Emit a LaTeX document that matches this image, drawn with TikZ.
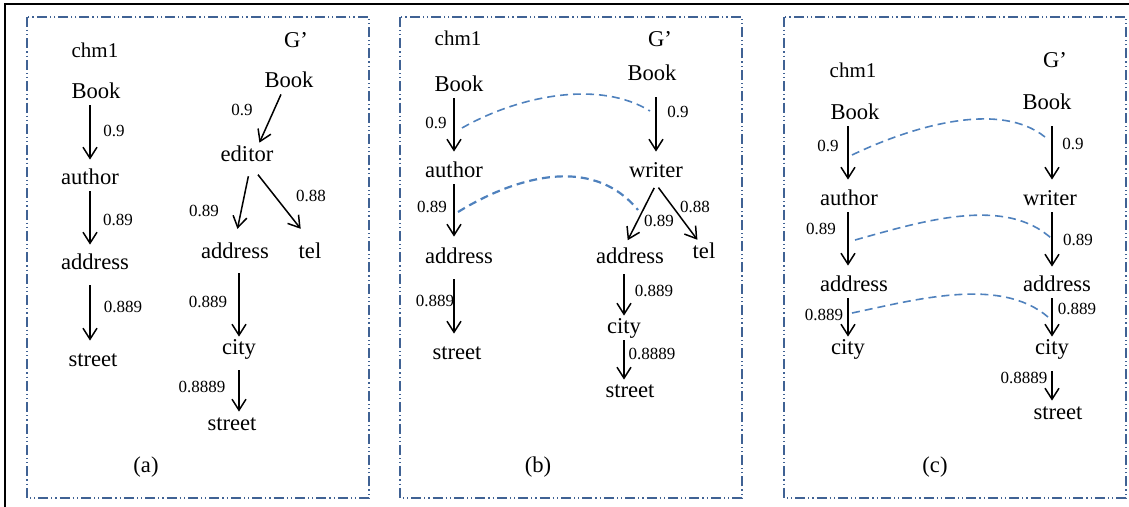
\documentclass[tikz,border=0pt]{standalone}
\usepackage{fontspec}
\setmainfont{Liberation Serif}
\usetikzlibrary{arrows.meta}
\definecolor{frameblue}{RGB}{64,98,148}
\definecolor{linkblue}{RGB}{79,129,189}

\tikzset{
  word/.style={font=\fontsize{11.3}{13}\selectfont, inner sep=1pt, text height=8pt, text depth=2pt},
  hdr/.style={font=\fontsize{10.5}{12}\selectfont, inner sep=1pt},
  wt/.style={font=\fontsize{8.5}{10}\selectfont, inner sep=0.5pt},
  arr/.style={-{Straight Barb[length=5.5pt,width=7pt]}, line width=0.75pt},
  match/.style={linkblue, dash pattern=on 4pt off 2.5pt, line width=0.8pt},
  panel/.style={frameblue, line width=0.8pt, dash pattern=on 5pt off 1.5pt on 0.6pt off 1.5pt on 0.6pt off 1.5pt}
}

\begin{document}
\begin{tikzpicture}[x=0.5pt, y=-0.5pt]
\useasboundingbox (0,0) rectangle (1129,507);

% outer frame and panels
\draw[line width=1pt] (5,507) -- (5,4) -- (1129,4);
\draw[panel] (27,17) rectangle (369,498);
\draw[panel] (400,17) rectangle (742,498);
\draw[panel] (784,17) rectangle (1126,498);

% ---------- (a) ----------
\node[hdr] (chmA) at (95,50) {chm1};
\node[word] (bookA) at (96,93) {Book};
\node[word] (authA) at (90,179) {author};
\node[word] (addrA) at (95,264) {address};
\node[word] (strA) at (93,361) {street};

\draw[arr, shorten >=3.5pt] (bookA.south -| authA) -- (authA);
\draw[arr, shorten >=3.5pt] (authA) -- (authA |- addrA.north);
\draw[arr, shorten <=4.5pt, shorten >=4pt] (addrA.south -| authA) -- (authA |- strA.north);

\node[wt] (wA1) at (114,131) {0.9};
\node[wt] (wA2) at (118,220) {0.89};
\node[wt] (wA3) at (123,307) {0.889};

\node[word] (gA) at (296,42) {G’};
\node[word] (bookB) at (289,82) {Book};
\node[word] (editB) at (247,156) {editor};
\node[word] (addrB) at (235,253) {address};
\node[word] (telB) at (310,253) {tel};
\node[word] (cityB) at (239,349) {city};
\node[word] (strB) at (232,424) {street};

\draw[arr, shorten >=0.5pt] ([xshift=-4pt]bookB.south) -- ([xshift=6pt]editB.north);
\draw[arr, shorten <=4pt, shorten >=6pt] ([xshift=1.5pt]editB.south) -- (addrB.north);
\draw[arr, shorten <=4pt, shorten >=7.5pt] ([xshift=3pt]editB.south) -- (telB.north);
\draw[arr, shorten <=4pt] (addrB.south -| cityB) -- (cityB);
\draw[arr, shorten <=4.5pt] (cityB) -- (cityB |- strB.north);

\node[wt] (wB1) at (242,110) {0.9};
\node[wt] (wB2) at (204,211) {0.89};
\node[wt] (wB3) at (311,196) {0.88};
\node[wt] (wB4) at (208,302) {0.889};
\node[wt] (wB5) at (202,387) {0.8889};

\node[word] (capA) at (146,467) {(a)};

% ---------- (b) ----------
\node[hdr] (chmC) at (458,38) {chm1};
\node[word] (bookC) at (459,86) {Book};
\node[word] (authC) at (454,172) {author};
\node[word] (addrC) at (459,258) {address};
\node[word] (strC) at (457,354) {street};

\draw[arr, shorten >=4pt] (bookC.south -| authC) -- (authC);
\draw[arr, shorten >=4.5pt] (authC) -- (authC |- addrC.north);
\draw[arr, shorten <=4.5pt, shorten >=4pt] (addrC.south -| authC) -- (authC |- strC.north);

\node[wt] (wC1) at (436,123) {0.9};
\node[wt] (wC2) at (432,207) {0.89};
\node[wt] (wC3) at (435,301) {0.889};

\node[word] (gD) at (660,41) {G’};
\node[word] (bookD) at (652,75) {Book};
\node[word] (writD) at (656,172) {writer};
\node[word] (addrD) at (630,258) {address};
\node[word] (telD) at (704,253) {tel};
\node[word] (cityD) at (624,328) {city};
\node[word] (strD) at (630,392) {street};

\draw[arr, shorten <=5pt, shorten >=4pt] (bookD.south -| writD) -- (writD);
\draw[arr, shorten <=2pt, shorten >=3pt] (writD.south) -- ([xshift=-2.5pt]addrD.north);
\draw[arr, shorten <=2pt, shorten >=0.5pt] (writD.south) -- ([xshift=-3pt]telD.north);
\draw[arr, shorten <=2pt] (addrD.south -| cityD) -- (cityD);
\draw[arr] (cityD) -- (cityD |- strD.north);

\node[wt] (wD1) at (678,112) {0.9};
\node[wt] (wD2) at (659,221) {0.89};
\node[wt] (wD3) at (695,207) {0.88};
\node[wt] (wD4) at (654,291) {0.889};
\node[wt] (wD5) at (652,354) {0.8889};

% matches
\coordinate (mb1s) at (462,128);
\coordinate (mb1e) at (650,111);
\coordinate (mb2s) at (458,212);
\coordinate (mb2e) at (638,210);
\draw[match] (mb1s) .. controls (520,95) and (600,80) .. (mb1e);
\draw[match, line width=1.1pt] (mb2s) .. controls (510,180) and (590,152) .. (mb2e);

\node[word] (capB) at (538,467) {(b)};

% ---------- (c) ----------
\node[hdr] (chmE) at (853,70) {chm1};
\node[word] (bookE) at (855,114) {Book};
\node[word] (authE) at (849,200) {author};
\node[word] (addrE) at (854,286) {address};
\node[word] (cityE) at (848,349) {city};

\draw[arr, shorten >=4pt] (bookE.south -| cityE) -- (cityE |- authE.north);
\draw[arr, shorten >=4pt] (authE.south -| cityE) -- (cityE |- addrE.north);
\draw[arr] (addrE.south -| cityE) -- (cityE);

\node[wt] (wE1) at (828,146) {0.9};
\node[wt] (wE2) at (821,229) {0.89};
\node[wt] (wE3) at (824,315) {0.889};

\node[word] (gF) at (1055,62) {G’};
\node[word] (bookF) at (1047,104) {Book};
\node[word] (writF) at (1050,200) {writer};
\node[word] (addrF) at (1057,286) {address};
\node[word] (cityF) at (1052,349) {city};
\node[word] (strF) at (1058,413) {street};

\draw[arr, shorten <=5pt, shorten >=4pt] (bookF.south -| cityF) -- (cityF |- writF.north);
\draw[arr, shorten >=3.5pt] (writF.south -| cityF) -- (cityF |- addrF.north);
\draw[arr] (addrF.south -| cityF) -- (cityF);
\draw[arr, shorten <=5pt] (cityF) -- (cityF |- strF.north);

\node[wt] (wF1) at (1073,144) {0.9};
\node[wt] (wF2) at (1078,240) {0.89};
\node[wt] (wF3) at (1077,309) {0.889};
\node[wt] (wF4) at (1024,378) {0.8889};

% matches
\coordinate (mc1s) at (852,155);
\coordinate (mc1e) at (1045,137);
\coordinate (mc2s) at (855,240);
\coordinate (mc2e) at (1052,239);
\coordinate (mc3s) at (852,313);
\coordinate (mc3e) at (1048,317);
\draw[match] (mc1s) .. controls (915,125) and (1000,101) .. (mc1e);
\draw[match] (mc2s) .. controls (920,222) and (1005,195) .. (mc2e);
\draw[match] (mc3s) .. controls (915,300) and (1000,276) .. (mc3e);

\node[word] (capC) at (935,467) {(c)};

\end{tikzpicture}
\end{document}
